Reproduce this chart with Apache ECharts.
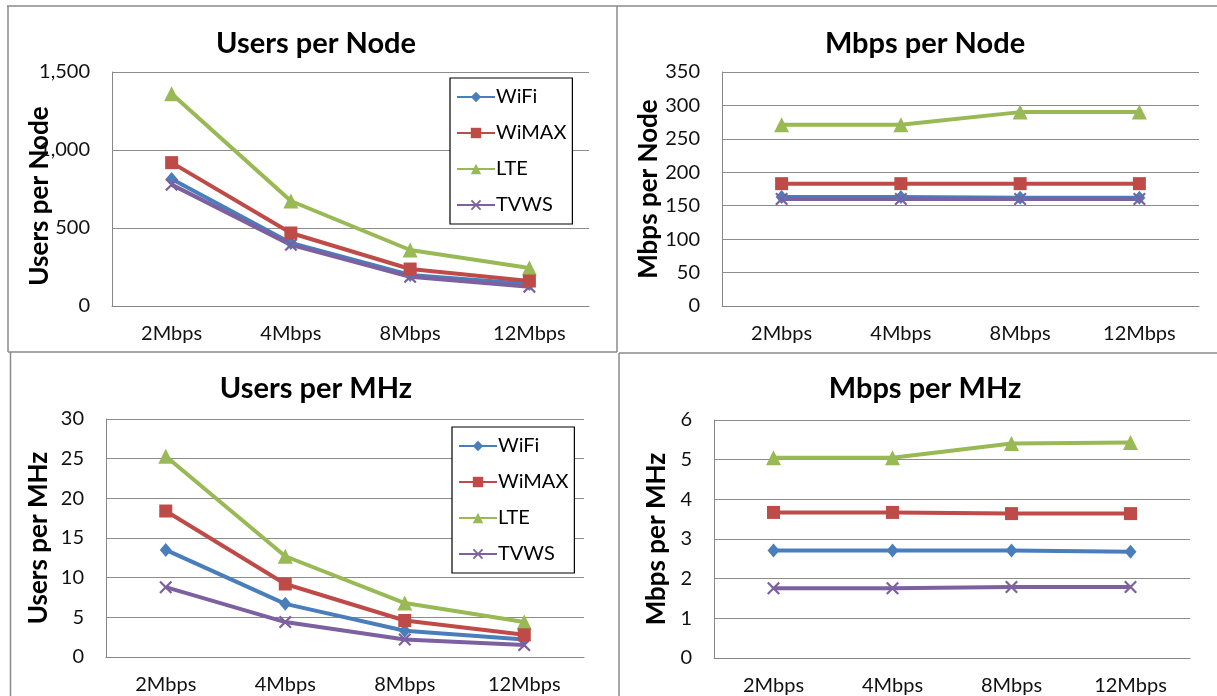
<!DOCTYPE html>
<html>
<head>
<meta charset="utf-8">
<script src="https://cdn.jsdelivr.net/npm/echarts@6/dist/echarts.min.js"></script>
<style>
html,body{margin:0;padding:0;background:#fff;}
#c{width:1217px;height:696px;}
</style>
</head>
<body>
<div id="c"></div>
<script>
const categories = ['2Mbps', '4Mbps', '8Mbps', '12Mbps'];
const seriesNames = ['WiFi', 'WiMAX', 'LTE', 'TVWS'];

// Users per Node
const usersNodeWiFi  = [814, 404, 199, 141];
const usersNodeWiMAX = [919, 468, 237, 160];
const usersNodeLTE   = [1360, 673, 359, 244];
const usersNodeTVWS  = [778, 392, 187, 124];

// Mbps per Node
const mbpsNodeWiFi  = [163, 163, 162, 162];
const mbpsNodeWiMAX = [183, 183, 183, 183];
const mbpsNodeLTE   = [271, 271, 290, 290];
const mbpsNodeTVWS  = [160, 160, 160, 160];

// Users per MHz
const usersMHzWiFi  = [13.5, 6.7, 3.3, 2.2];
const usersMHzWiMAX = [18.4, 9.2, 4.6, 2.8];
const usersMHzLTE   = [25.3, 12.7, 6.8, 4.4];
const usersMHzTVWS  = [8.8, 4.4, 2.2, 1.5];

// Mbps per MHz
const mbpsMHzWiFi  = [2.71, 2.71, 2.71, 2.68];
const mbpsMHzWiMAX = [3.67, 3.67, 3.64, 3.64];
const mbpsMHzLTE   = [5.05, 5.05, 5.41, 5.43];
const mbpsMHzTVWS  = [1.76, 1.76, 1.79, 1.79];

const panelTitles = ['Users per Node', 'Mbps per Node', 'Users per MHz', 'Mbps per MHz'];
const yTicks1 = [0, 1500, 500];
const yTicks2 = [0, 350, 50];
const yTicks3 = [0, 30, 5];
const yTicks4 = [0, 6, 1];

const FONT = 'Lato';
const colors = ['#4A7EBB', '#BE4B48', '#98B954', '#7D60A0'];
const xPath = 'path://M0,1.2 L1.2,0 L5,3.8 L8.8,0 L10,1.2 L6.2,5 L10,8.8 L8.8,10 L5,6.2 L1.2,10 L0,8.8 L3.8,5 Z';
const symbols = ['diamond', 'rect', 'triangle', xPath];
const symbolSizes = [[12, 14], 13, 15, 13];

const grids = [
  {left: 112, top: 72, width: 477, height: 234},
  {left: 722, top: 72, width: 477, height: 234},
  {left: 106, top: 419, width: 478, height: 238},
  {left: 714, top: 420, width: 476, height: 238}
];
const yRanges = [yTicks1, yTicks2, yTicks3, yTicks4];
const panelData = [
  [usersNodeWiFi, usersNodeWiMAX, usersNodeLTE, usersNodeTVWS],
  [mbpsNodeWiFi, mbpsNodeWiMAX, mbpsNodeLTE, mbpsNodeTVWS],
  [usersMHzWiFi, usersMHzWiMAX, usersMHzLTE, usersMHzTVWS],
  [mbpsMHzWiFi, mbpsMHzWiMAX, mbpsMHzLTE, mbpsMHzTVWS]
];
const titlePos = [[311, 24], [920, 24], [311, 369], [920, 369]];
const nameGaps = [59, 60, 54, 44];
const namePads = [[0, 14, 0, 0], [0, 0, 0, 0], [0, 0, 0, 0], [0, 0, 0, 0]];

const chart = echarts.init(document.getElementById('c'), null, {renderer: 'canvas'});

const xAxis = [], yAxis = [], series = [], title = [];
for (let p = 0; p < 4; p++) {
  xAxis.push({
    type: 'category', gridIndex: p, data: categories, boundaryGap: true,
    axisLine: {lineStyle: {color: '#868686', width: 1}},
    axisTick: {show: false},
    axisLabel: {fontFamily: FONT, fontSize: 20, color: '#111', margin: 18}
  });
  yAxis.push({
    type: 'value', gridIndex: p, min: yRanges[p][0], max: yRanges[p][1], interval: yRanges[p][2],
    name: panelTitles[p], nameLocation: 'middle', nameRotate: 90, nameGap: nameGaps[p],
    nameMoveOverlap: false,
    nameTextStyle: {fontFamily: FONT, fontSize: 26, fontWeight: 'bold', color: '#000', padding: namePads[p]},
    axisLine: {show: true, lineStyle: {color: '#868686', width: 1}},
    axisTick: {show: false},
    splitLine: {lineStyle: {color: '#8c8c8c', width: 1}},
    axisLabel: {fontFamily: FONT, fontSize: 20, color: '#111', margin: 22,
      formatter: v => v.toLocaleString('en-US')}
  });
  title.push({
    text: panelTitles[p], left: titlePos[p][0], top: titlePos[p][1], textAlign: 'center',
    textStyle: {fontFamily: FONT, fontSize: 29, fontWeight: 'bold', color: '#000'}
  });
  for (let s = 0; s < 4; s++) {
    series.push({
      type: 'line', name: seriesNames[s], xAxisIndex: p, yAxisIndex: p,
      data: panelData[p][s], symbol: symbols[s], symbolSize: symbolSizes[s],
      showAllSymbol: true,
      lineStyle: {color: colors[s], width: 4},
      itemStyle: {color: colors[s]},
      z: 2 + (s === 1 ? 1 : 0),
      animation: false
    });
  }
}

function legend(left, top) {
  return {
    left: left, top: top, orient: 'vertical', itemGap: 16,
    itemWidth: 38, itemHeight: 13, padding: [9, 6, 9, 6],
    borderColor: '#000', borderWidth: 1.2, backgroundColor: '#fff',
    textStyle: {fontFamily: FONT, fontSize: 20, color: '#000', padding: [0, 0, 0, -4]},
    data: seriesNames, selectedMode: false
  };
}

const borderStyle = {stroke: '#8a8a8a', lineWidth: 1.5};
const lines = [
  [7, 6, 1217, 6], [8, 6, 8, 352], [10.5, 352, 10.5, 696], [8, 352, 617, 352],
  [619, 353, 1217, 353], [617, 6, 617, 352], [619, 353, 619, 696]
];

chart.setOption({
  animation: false,
  backgroundColor: '#fff',
  title: title,
  grid: grids,
  xAxis: xAxis,
  yAxis: yAxis,
  legend: [legend(450, 78), legend(452, 427)],
  series: series,
  graphic: lines.map(l => ({type: 'line', shape: {x1: l[0], y1: l[1], x2: l[2], y2: l[3]}, style: borderStyle, silent: true}))
});
</script>
</body>
</html>
